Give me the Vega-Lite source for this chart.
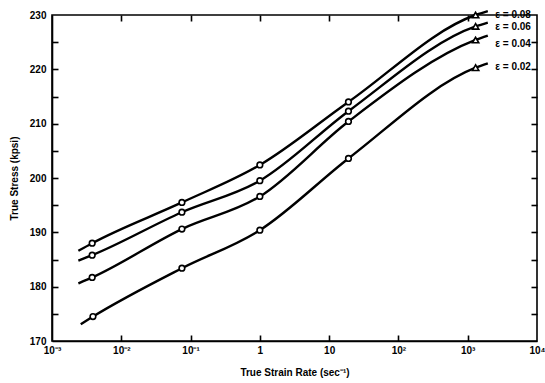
{
  "$schema": "https://vega.github.io/schema/vega-lite/v6.json",
  "width": 485,
  "height": 326,
  "autosize": "none",
  "padding": {"left": 52, "top": 15, "right": 8, "bottom": 42},
  "background": "white",
  "config": {
    "view": {"stroke": "black", "strokeWidth": 1.6}
  },
  "datasets": {
    "curves": [
      {"eps": "0.08", "kind": "start", "rate": 0.0024, "stress": 186.6},
      {"eps": "0.08", "kind": "circle", "rate": 0.0038, "stress": 188.0},
      {"eps": "0.08", "kind": "circle", "rate": 0.075, "stress": 195.5},
      {"eps": "0.08", "kind": "circle", "rate": 1.0, "stress": 202.4},
      {"eps": "0.08", "kind": "circle", "rate": 19, "stress": 214.0},
      {"eps": "0.08", "kind": "triangle", "rate": 1300, "stress": 230.0},
      {"eps": "0.08", "kind": "end", "rate": 1950, "stress": 230.7},
      {"eps": "0.06", "kind": "start", "rate": 0.0024, "stress": 184.8},
      {"eps": "0.06", "kind": "circle", "rate": 0.0038, "stress": 185.8},
      {"eps": "0.06", "kind": "circle", "rate": 0.075, "stress": 193.7},
      {"eps": "0.06", "kind": "circle", "rate": 1.0, "stress": 199.5},
      {"eps": "0.06", "kind": "circle", "rate": 19, "stress": 212.3},
      {"eps": "0.06", "kind": "triangle", "rate": 1300, "stress": 227.9},
      {"eps": "0.06", "kind": "end", "rate": 1950, "stress": 228.6},
      {"eps": "0.04", "kind": "start", "rate": 0.0024, "stress": 180.6},
      {"eps": "0.04", "kind": "circle", "rate": 0.0038, "stress": 181.7},
      {"eps": "0.04", "kind": "circle", "rate": 0.075, "stress": 190.6},
      {"eps": "0.04", "kind": "circle", "rate": 1.0, "stress": 196.6},
      {"eps": "0.04", "kind": "circle", "rate": 19, "stress": 210.4},
      {"eps": "0.04", "kind": "triangle", "rate": 1300, "stress": 225.4},
      {"eps": "0.04", "kind": "end", "rate": 1950, "stress": 226.2},
      {"eps": "0.02", "kind": "start", "rate": 0.0026, "stress": 173.1},
      {"eps": "0.02", "kind": "circle", "rate": 0.0039, "stress": 174.5},
      {"eps": "0.02", "kind": "circle", "rate": 0.075, "stress": 183.4},
      {"eps": "0.02", "kind": "circle", "rate": 1.0, "stress": 190.4},
      {"eps": "0.02", "kind": "circle", "rate": 19, "stress": 203.6},
      {"eps": "0.02", "kind": "triangle", "rate": 1300, "stress": 220.3},
      {"eps": "0.02", "kind": "end", "rate": 1950, "stress": 221.1}
    ],
    "labels": [
      {"text": "ε = 0.08", "rate": 2500, "stress": 230.0},
      {"text": "ε = 0.06", "rate": 2500, "stress": 227.8},
      {"text": "ε = 0.04", "rate": 2500, "stress": 224.6},
      {"text": "ε = 0.02", "rate": 2500, "stress": 220.5}
    ]
  },
  "resolve": {
    "scale": {"x": "independent", "y": "independent"},
    "axis": {"x": "independent", "y": "independent"}
  },
  "layer": [
    {
      "data": {"name": "curves"},
      "mark": {"type": "line", "color": "black", "strokeWidth": 2.4, "interpolate": "monotone", "clip": false},
      "encoding": {
        "x": {
          "field": "rate", "type": "quantitative",
          "scale": {"type": "log", "domain": [0.001, 10000], "nice": false},
          "axis": {
            "orient": "bottom",
            "values": [0.001, 0.01, 0.1, 1, 10, 100, 1000, 10000],
            "labelExpr": "datum.value < 0.005 ? '10⁻³' : datum.value < 0.05 ? '10⁻²' : datum.value < 0.5 ? '10⁻¹' : datum.value < 5 ? '1' : datum.value < 50 ? '10' : datum.value < 500 ? '10²' : datum.value < 5000 ? '10³' : '10⁴'",
            "grid": false,
            "ticks": false,
            "domainColor": "black",
            "domainWidth": 1.6,
            "labelColor": "black",
            "labelFont": "Liberation Sans",
            "labelFontWeight": "bold",
            "labelFontSize": 10,
            "labelPadding": 4,
            "labelFlush": false,
            "labelOverlap": false,
            "title": "True Strain Rate (sec⁻¹)",
            "titleFont": "Liberation Sans",
            "titleFontWeight": "bold",
            "titleFontSize": 10,
            "titleColor": "black",
            "titlePadding": 12
          }
        },
        "y": {
          "field": "stress", "type": "quantitative",
          "scale": {"domain": [170, 230], "nice": false, "zero": false},
          "axis": {
            "orient": "left",
            "values": [170, 180, 190, 200, 210, 220, 230],
            "grid": false,
            "ticks": false,
            "domainColor": "black",
            "domainWidth": 1.6,
            "labelColor": "black",
            "labelFont": "Liberation Sans",
            "labelFontWeight": "bold",
            "labelFontSize": 10,
            "labelPadding": 6,
            "labelFlush": false,
            "labelOverlap": false,
            "title": "True Stress (kpsi)",
            "titleFont": "Liberation Sans",
            "titleFontWeight": "bold",
            "titleFontSize": 10,
            "titleColor": "black",
            "titlePadding": 10
          }
        },
        "detail": {"field": "eps"},
        "order": {"field": "rate", "type": "quantitative"}
      }
    },
    {
      "data": {"name": "curves"},
      "transform": [{"filter": "datum.kind == 'circle'"}],
      "mark": {"type": "point", "shape": "circle", "filled": true, "fill": "white", "stroke": "black", "strokeWidth": 1.6, "size": 32, "opacity": 1},
      "encoding": {
        "x": {
          "field": "rate", "type": "quantitative",
          "scale": {"type": "log", "domain": [0.001, 10000], "nice": false},
          "axis": {"orient": "top", "offset": -326, "values": [0.01, 0.1, 1, 10, 100, 1000], "labels": false, "domain": false, "grid": false, "tickSize": 6, "tickColor": "black", "tickWidth": 1.6, "title": null}
        },
        "y": {
          "field": "stress", "type": "quantitative",
          "scale": {"domain": [170, 230], "nice": false, "zero": false},
          "axis": {"orient": "right", "offset": -485, "values": [175, 180, 185, 190, 195, 200, 205, 210, 215, 220, 225], "labels": false, "domain": false, "grid": false, "tickSize": 6, "tickColor": "black", "tickWidth": 1.6, "title": null}
        }
      }
    },
    {
      "data": {"name": "curves"},
      "transform": [{"filter": "datum.kind == 'triangle'"}],
      "mark": {"type": "point", "shape": "triangle-up", "filled": true, "fill": "white", "stroke": "black", "strokeWidth": 1.6, "size": 40, "opacity": 1},
      "encoding": {
        "x": {
          "field": "rate", "type": "quantitative",
          "scale": {"type": "log", "domain": [0.001, 10000], "nice": false},
          "axis": {"orient": "bottom", "offset": -326, "values": [0.01, 0.1, 1, 10, 100, 1000], "labels": false, "domain": false, "grid": false, "tickSize": 6, "tickColor": "black", "tickWidth": 1.6, "title": null}
        },
        "y": {
          "field": "stress", "type": "quantitative",
          "scale": {"domain": [170, 230], "nice": false, "zero": false},
          "axis": {"orient": "left", "offset": -485, "values": [175, 180, 185, 190, 195, 200, 205, 210, 215, 220, 225], "labels": false, "domain": false, "grid": false, "tickSize": 6, "tickColor": "black", "tickWidth": 1.6, "title": null}
        }
      }
    },
    {
      "data": {"name": "labels"},
      "mark": {"type": "text", "align": "left", "baseline": "middle", "font": "Liberation Sans", "fontWeight": "bold", "fontSize": 10, "color": "black", "clip": false},
      "encoding": {
        "x": {"field": "rate", "type": "quantitative", "scale": {"type": "log", "domain": [0.001, 10000], "nice": false}, "axis": null},
        "y": {"field": "stress", "type": "quantitative", "scale": {"domain": [170, 230], "nice": false, "zero": false}, "axis": null},
        "text": {"field": "text"}
      }
    }
  ]
}
